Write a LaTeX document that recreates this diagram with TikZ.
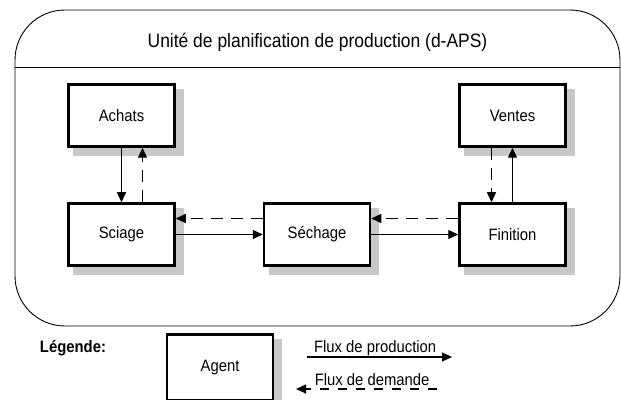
\documentclass[tikz,border=0pt]{standalone}
\usepackage{fontspec}
\setmainfont{Liberation Sans}
\newfontfamily\etroit[FakeStretch=0.9]{Liberation Sans}
\usepackage{tikz}
\usetikzlibrary{arrows.meta,backgrounds,positioning}
\tikzset{agent/.style={draw, line width=2.5pt, fill=white, minimum width=106pt, minimum height=62pt,
  font=\etroit\fontsize{16.5}{19}\selectfont}}
\tikzstyle{ombre}=[fill=black!22]
\tikzstyle{prod}=[->, line width=1.2pt]
\tikzstyle{dem}=[->, line width=1.2pt, dash pattern=on 12pt off 8pt]
\tikzstyle{lab}=[font=\etroit\fontsize{16.5}{19}\selectfont, anchor=base, yshift=4pt, inner sep=0pt]

\begin{document}
\begin{tikzpicture}[x=1pt, y=1pt, >={Triangle[length=10pt,width=9pt]}, node distance=195.5pt]
\useasboundingbox (0,0) rectangle (621,399);
% cadre de l'unite
\draw[line width=0.9pt, rounded corners=50pt] (15,73) rectangle (620,389);
\draw[line width=0.9pt] (15,332) -- (620,332);
\node[font=\etroit\fontsize{19.4}{23}\selectfont] (titre) at (317.5,357) {Unité de planification de production (d-APS)};

\node[agent] (Sci) at (121.5,164.5) {Sciage};
\node[agent][right of =Sci] (Sec) {Séchage};
\node[agent][right of =Sec] (Fin) {Finition};
\node[agent][above of =Sci, node distance=119pt] (Ach) {Achats};
\node[agent][above of =Fin, node distance=119pt] (Ven) {Ventes};

\path (Ach) edge[prod] (Sci)
	([xshift=21pt]Sci.north) edge[dem] ([xshift=21pt]Ach.south)
	(Sci) edge[prod] (Sec)
	([yshift=16pt]Sec.west) edge[dem] ([yshift=16pt]Sci.east)
	(Sec) edge[prod] (Fin)
	([yshift=16pt]Fin.west) edge[dem] ([yshift=16pt]Sec.east)
	(Fin) edge[prod] (Ven)
	([xshift=-21pt]Ven.south) edge[dem] ([xshift=-21pt]Fin.north)
;

% legende
\node[font=\etroit\bfseries\fontsize{16.5}{19}\selectfont] (leg) at (73,51) {Légende:};
\node[agent, minimum height=66pt] (Agt) at (220,31.5) {Agent};
\coordinate (p1) at (307,42);
\coordinate (p2) at (452,42);
\coordinate (d1) at (437,10);
\coordinate (d2) at (296,10);
\draw[prod] (p1) -- node[lab, pos=0.47] (lprod) {Flux de production} (p2);
\draw[dem, dash pattern=on 9pt off 9pt] (d1) -- node[lab, pos=0.46] (ldem) {Flux de demande} (d2);

% ombres des agents
\begin{scope}[on background layer]
\foreach \n in {Ach,Ven,Sci,Sec,Fin,Agt}
  \fill[ombre] ([shift={(6pt,-8pt)}]\n.south west) rectangle ([shift={(8pt,-6pt)}]\n.north east);
\end{scope}
\end{tikzpicture}
\end{document}
